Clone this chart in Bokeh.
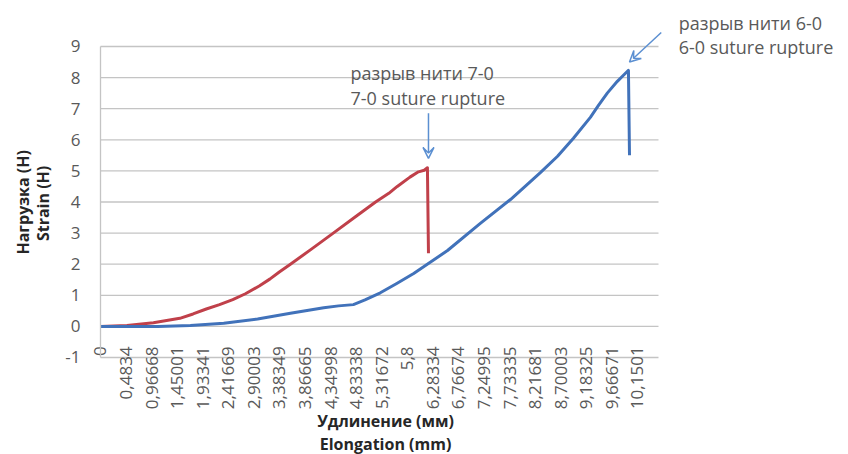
import math
from bokeh.plotting import figure
from bokeh.models import (Range1d, FixedTicker, CustomJSTickFormatter, Label, Arrow, VeeHead, LinearAxis)
from bokeh.embed import file_html
from bokeh.resources import INLINE

# ---- data ----
red_x = [0, 0.5, 1.0, 1.5, 1.75, 2.0, 2.25, 2.5, 2.74, 3.0, 3.2, 3.38, 3.59, 4.0, 4.4, 4.8, 5.2,
         5.45, 5.61, 5.85, 6.01, 6.12, 6.18, 6.20]
red_y = [0, 0.03, 0.12, 0.26, 0.4, 0.56, 0.7, 0.86, 1.05, 1.3, 1.52, 1.75, 2.0, 2.5, 3.0, 3.5, 4.0,
         4.28, 4.5, 4.8, 4.97, 5.02, 5.1, 2.35]

blue_x = [0, 1.08, 1.70, 2.33, 2.97, 3.59, 4.22, 4.5, 4.78, 5.0, 5.29, 5.6, 5.92, 6.56, 7.18, 7.75,
          8.32, 8.64, 8.94, 9.26, 9.42, 9.58, 9.77, 9.90, 9.98, 10.0]
blue_y = [0, 0.0, 0.03, 0.10, 0.24, 0.42, 0.60, 0.66, 0.70, 0.85, 1.08, 1.38, 1.7, 2.44, 3.31, 4.08,
          4.95, 5.47, 6.05, 6.72, 7.12, 7.5, 7.88, 8.1, 8.23, 5.5]

xtick_vals = [0, 0.4834, 0.96668, 1.45001, 1.93341, 2.41669, 2.90003, 3.38349, 3.86665, 4.34998,
              4.83338, 5.31672, 5.8, 6.28334, 6.76674, 7.24995, 7.73335, 8.21681, 8.70003, 9.18325,
              9.66671, 10.1501]
xtick_labels = ["0", "0,4834", "0,96668", "1,45001", "1,93341", "2,41669", "2,90003", "3,38349",
                "3,86665", "4,34998", "4,83338", "5,31672", "5,8", "6,28334", "6,76674", "7,24995",
                "7,73335", "8,21681", "8,70003", "9,18325", "9,66671", "10,1501"]
ytick_vals = [-1, 0, 1, 2, 3, 4, 5, 6, 7, 8, 9]
x_max = 10.548

FONT = "Open Sans"
GRAY = "#595959"
DARK = "#262626"
GRID = "#C4C4C4"

p = figure(width=848, height=454, output_backend="svg", toolbar_location=None,
           x_range=Range1d(-1.8904, 14.1399), y_range=Range1d(-4.1190, 10.4791),
           x_axis_location=None, y_axis_location=None,
           min_border_left=0, min_border_right=0, min_border_top=0, min_border_bottom=0)
p.outline_line_color = None
p.background_fill_color = "white"
p.xgrid.visible = False
p.ygrid.visible = False

# horizontal gridlines, limited to the plot area
p.segment(x0=[0] * len(ytick_vals), x1=[x_max] * len(ytick_vals), y0=ytick_vals, y1=ytick_vals,
          line_color=GRID, line_width=1.3)

# y axis
yax = LinearAxis(fixed_location=0, bounds=(-1, 9))
yax.ticker = FixedTicker(ticks=ytick_vals)
yax.formatter = CustomJSTickFormatter(code="return tick.toString();")
yax.axis_line_color = GRID
yax.axis_line_width = 1.3
yax.major_tick_line_color = None
yax.minor_tick_line_color = None
yax.major_label_standoff = 14
yax.major_label_text_font = FONT
yax.major_label_text_font_size = "17px"
yax.major_label_text_color = GRAY
p.add_layout(yax, "left")

# x axis (crosses at y = 0)
xax = LinearAxis(fixed_location=0, bounds=(0, x_max))
xax.ticker = FixedTicker(ticks=xtick_vals)
xax.formatter = CustomJSTickFormatter(args=dict(labels=xtick_labels), code="return labels[index];")
xax.axis_line_color = None
xax.major_tick_line_color = None
xax.minor_tick_line_color = None
xax.major_label_orientation = math.pi / 2
xax.major_label_standoff = 14
xax.major_label_text_font = FONT
xax.major_label_text_font_size = "17px"
xax.major_label_text_color = GRAY
p.add_layout(xax, "below")

# series
p.line(red_x, red_y, line_color="#C0404A", line_width=3, line_join="round")
p.line(blue_x, blue_y, line_color="#4172BA", line_width=3, line_join="round")

def lab(x, y, t, size="18px", bold=False, color=GRAY, angle=0, align="left"):
    p.add_layout(Label(x=x, y=y, text=t, text_font=FONT, text_font_size=size,
                       text_font_style="bold" if bold else "normal", text_color=color,
                       angle=angle, text_align=align, text_baseline="middle"))

# annotations
lab(4.726, 8.135, "разрыв нити 7-0")
lab(4.726, 7.33, "7-0 suture rupture")
lab(10.93, 9.74, "разрыв нити 6-0")
lab(10.93, 8.97, "6-0 suture rupture")

ARC = "#5B8FD1"
p.add_layout(Arrow(end=VeeHead(size=11, line_color=ARC, line_width=1.5, fill_color=None),
                   x_start=6.2, y_start=6.85, x_end=6.2, y_end=5.4,
                   line_color=ARC, line_width=1.5))
p.add_layout(Arrow(end=VeeHead(size=11, line_color=ARC, line_width=1.5, fill_color=None),
                   x_start=10.6, y_start=9.45, x_end=10.0, y_end=8.5,
                   line_color=ARC, line_width=1.5))

# axis titles
lab(-1.474, 3.99, "Нагрузка (Н)", size="16px", bold=True, color=DARK, angle=math.pi / 2, align="center")
lab(-1.096, 3.955, "Strain (H)", size="16px", bold=True, color=DARK, angle=math.pi / 2, align="center")
lab(5.388, -3.026, "Удлинение (мм)", size="16px", bold=True, color=DARK, align="center")
lab(5.388, -3.797, "Elongation (mm)", size="16px", bold=True, color=DARK, align="center")

open("out.html", "w").write(file_html(p, INLINE))
